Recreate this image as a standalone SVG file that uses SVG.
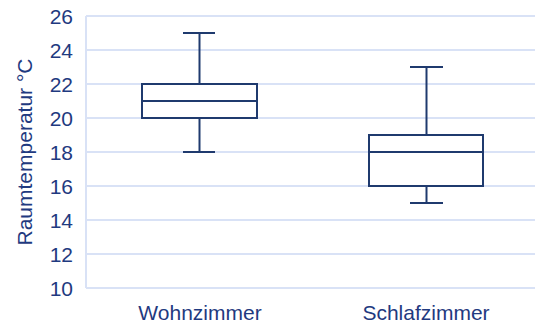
<svg xmlns="http://www.w3.org/2000/svg" width="535" height="325" viewBox="0 0 535 325">
<style>
.grid{stroke:#d9e2f6;stroke-width:2;fill:none}
.box{stroke:#1f3a6e;stroke-width:2;fill:none}
text{font-family:"Liberation Sans",Arial,sans-serif;font-size:21px;fill:#1f3a80}
.tick{text-anchor:end}
.cat{text-anchor:middle}
</style>
<rect width="535" height="325" fill="#fff"/>
<g id="grid">
<line class="grid" x1="86" y1="16" x2="535" y2="16"/>
<line class="grid" x1="86" y1="50" x2="535" y2="50"/>
<line class="grid" x1="86" y1="84" x2="535" y2="84"/>
<line class="grid" x1="86" y1="118" x2="535" y2="118"/>
<line class="grid" x1="86" y1="152" x2="535" y2="152"/>
<line class="grid" x1="86" y1="186" x2="535" y2="186"/>
<line class="grid" x1="86" y1="220" x2="535" y2="220"/>
<line class="grid" x1="86" y1="254" x2="535" y2="254"/>
<line class="grid" x1="86" y1="288" x2="535" y2="288"/>
<line class="grid" x1="86" y1="16" x2="86" y2="288"/>
</g>
<g id="ticks">
<text class="tick" x="73" y="24">26</text>
<text class="tick" x="73" y="58">24</text>
<text class="tick" x="73" y="92">22</text>
<text class="tick" x="73" y="126">20</text>
<text class="tick" x="73" y="160">18</text>
<text class="tick" x="73" y="194">16</text>
<text class="tick" x="73" y="228">14</text>
<text class="tick" x="73" y="262">12</text>
<text class="tick" x="73" y="296">10</text>
</g>
<text id="ytitle" class="cat" transform="translate(32,152) rotate(-90)">Raumtemperatur °C</text>
<g id="wohnzimmer">
<line class="box" x1="199.5" y1="33" x2="199.5" y2="84"/>
<line class="box" x1="183" y1="33" x2="215" y2="33"/>
<line class="box" x1="199.5" y1="118" x2="199.5" y2="152"/>
<line class="box" x1="183" y1="152" x2="215" y2="152"/>
<rect class="box" x="142" y="84" width="115" height="34"/>
<line class="box" x1="142" y1="101" x2="257" y2="101"/>
<text class="cat" x="200" y="320">Wohnzimmer</text>
</g>
<g id="schlafzimmer">
<line class="box" x1="426.5" y1="67" x2="426.5" y2="135"/>
<line class="box" x1="410" y1="67" x2="443" y2="67"/>
<line class="box" x1="426.5" y1="186" x2="426.5" y2="203"/>
<line class="box" x1="410" y1="203" x2="443" y2="203"/>
<rect class="box" x="369" y="135" width="114" height="51"/>
<line class="box" x1="369" y1="152" x2="483" y2="152"/>
<text class="cat" x="426" y="320">Schlafzimmer</text>
</g>
</svg>
